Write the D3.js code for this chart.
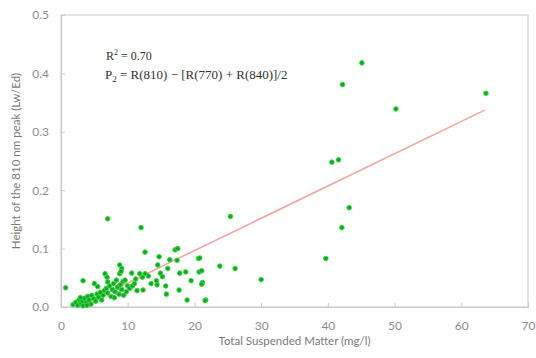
<!DOCTYPE html>
<html>
<head>
<meta charset="utf-8">
<script src="https://cdn.jsdelivr.net/npm/d3@7/dist/d3.min.js"></script>
<style>
  html, body { margin: 0; padding: 0; background: #fff; }
  svg { display: block; }
</style>
</head>
<body>
<svg id="chart" width="536" height="358"></svg>
<script>
// Total suspended matter (mg/l) per sample
const tsm = [
  1.8, 2.2, 2.5, 2.7, 3.0, 3.2, 3.5, 3.3, 3.8, 4.0, 4.2, 4.5, 4.6, 4.9, 5.2, 5.4, 5.6, 5.9, 6.1, 6.3, 2.9, 3.9,
  6.5, 6.8, 7.0, 7.3, 7.5, 7.7, 7.9, 8.1, 8.3, 8.5, 8.7, 8.9, 9.1, 9.3, 9.6, 9.8, 10.0, 10.3, 10.7, 11.0, 11.4,
  6.6, 6.9, 8.8, 9.1, 8.8, 9.0, 10.6, 11.8, 12.6, 13.1, 12.2, 12.3, 5.0, 5.5, 7.0, 3.3, 0.7, 7.0, 12.0,
  16.3, 17.4, 20.6, 14.5, 14.9, 15.2, 17.8, 18.7, 20.7, 14.4, 15.7, 19.5, 21.2, 17.7, 15.8, 18.9, 21.7,
  17.1, 17.5, 12.6, 14.7, 14.3, 16.0, 13.5, 11.2, 9.4, 8.0,
  45.1, 42.2, 63.7, 50.2, 40.6, 41.6, 43.2, 42.1, 25.4, 39.7, 23.8, 26.1, 30.0, 21.6, 21.1, 21.1, 20.8
];
// Height of the 810 nm peak (Lw/Ed) per sample
const peak = [
  0.004, 0.008, 0.003, 0.012, 0.006, 0.010, 0.015, 0.002, 0.008, 0.018, 0.012, 0.005, 0.020, 0.014, 0.010, 0.022, 0.017, 0.025, 0.012, 0.020, 0.016, 0.003,
  0.028, 0.032, 0.024, 0.036, 0.018, 0.030, 0.040, 0.026, 0.046, 0.034, 0.022, 0.038, 0.030, 0.044, 0.046, 0.026, 0.036, 0.032, 0.036, 0.040, 0.028,
  0.057, 0.051, 0.072, 0.066, 0.057, 0.061, 0.058, 0.057, 0.057, 0.053, 0.051, 0.029, 0.040, 0.035, 0.043, 0.045, 0.033, 0.151, 0.136,
  0.081, 0.080, 0.083, 0.072, 0.058, 0.052, 0.058, 0.060, 0.060, 0.038, 0.036, 0.045, 0.042, 0.029, 0.022, 0.012, 0.012,
  0.098, 0.100, 0.094, 0.086, 0.045, 0.066, 0.040, 0.048, 0.020, 0.016,
  0.418, 0.381, 0.366, 0.339, 0.248, 0.252, 0.170, 0.136, 0.155, 0.083, 0.070, 0.066, 0.047, 0.011, 0.062, 0.039, 0.084
];

// Linear fit: peak = slope * tsm + intercept
const fitSlope = 0.00553;
const fitIntercept = -0.014;
const fitRange = [2.5, 63.5];

const xTicks = [0, 10, 20, 30, 40, 50, 60, 70];
const yTicks = [0.0, 0.1, 0.2, 0.3, 0.4, 0.5];

const xTitle = "Total Suspended Matter (mg/l)";
const yTitle = "Height of the 810 nm peak (Lw/Ed)";

const svg = d3.select("#chart");
const m = { left: 61, right: 528, top: 15, bottom: 307 };

const x = d3.scaleLinear().domain([0, 70]).range([m.left, m.right]);
const y = d3.scaleLinear().domain([0, 0.5]).range([m.bottom, m.top]);

const gridGrey = "#c8c8c8";
const labelGrey = "#8c8c8c";

// Plot frame
svg.append("rect")
  .attr("x", m.left).attr("y", m.top)
  .attr("width", m.right - m.left).attr("height", m.bottom - m.top)
  .attr("fill", "none").attr("stroke", gridGrey).attr("stroke-width", 1);

// X axis with inward ticks
const xAxis = svg.append("g")
  .attr("transform", `translate(0,${m.bottom})`)
  .call(d3.axisBottom(x).tickValues(xTicks).tickSize(-4).tickPadding(14).tickFormat(d3.format("d")));
xAxis.select(".domain").attr("stroke", gridGrey);
xAxis.selectAll(".tick line").attr("stroke", gridGrey);
xAxis.selectAll("text")
  .attr("fill", labelGrey)
  .style("font-family", "Lato, 'Open Sans', sans-serif")
  .style("font-size", "12px");

// Y axis with inward ticks
const yAxis = svg.append("g")
  .attr("transform", `translate(${m.left},0)`)
  .call(d3.axisLeft(y).tickValues(yTicks).tickSize(-4).tickPadding(12).tickFormat(d3.format(".1f")));
yAxis.select(".domain").attr("stroke", gridGrey);
yAxis.selectAll(".tick line").attr("stroke", gridGrey);
yAxis.selectAll("text")
  .attr("fill", labelGrey)
  .style("font-family", "Lato, 'Open Sans', sans-serif")
  .style("font-size", "12px");

// Axis titles
svg.append("text")
  .attr("x", (m.left + m.right) / 2).attr("y", 345)
  .attr("text-anchor", "middle")
  .attr("fill", "#7a7a7a")
  .style("font-family", "Lato, 'Open Sans', sans-serif")
  .style("font-size", "11.5px")
  .text(xTitle);

svg.append("text")
  .attr("transform", `translate(20,${(m.top + m.bottom) / 2}) rotate(-90)`)
  .attr("text-anchor", "middle")
  .attr("fill", "#7a7a7a")
  .style("font-family", "Lato, 'Open Sans', sans-serif")
  .style("font-size", "11.5px")
  .text(yTitle);

// Regression line
const fitLine = d3.line().x(d => x(d)).y(d => y(fitSlope * d + fitIntercept));
svg.append("path")
  .datum(fitRange)
  .attr("d", fitLine)
  .attr("fill", "none")
  .attr("stroke", "#f2a5a5")
  .attr("stroke-width", 1.6);

// Sample points
const pts = tsm.map((t, i) => ({ t, p: peak[i] }));
svg.append("g").selectAll("circle")
  .data(pts)
  .join("circle")
  .attr("cx", d => x(d.t))
  .attr("cy", d => y(d.p))
  .attr("r", 2.3)
  .attr("fill", "#219a3c")
  .attr("stroke", "#2ee02e")
  .attr("stroke-width", 1);

// Fit statistics and index definition
const note = svg.append("g")
  .attr("fill", "#333")
  .style("font-family", "'Liberation Serif', 'Times New Roman', serif");

const r2 = note.append("text").attr("x", 106).attr("y", 60).style("font-size", "12px");
r2.append("tspan").text("R");
r2.append("tspan").attr("dy", -5).style("font-size", "8px").text("2");
r2.append("tspan").attr("dy", 5).text(" = 0.70");

const eq = note.append("text").attr("x", 105).attr("y", 79).style("font-size", "13px");
eq.append("tspan").text("P");
eq.append("tspan").attr("dy", 3).style("font-size", "9px").text("2");
eq.append("tspan").attr("dy", -3).text(" = R(810) − [R(770) + R(840)]/2");
</script>
</body>
</html>
